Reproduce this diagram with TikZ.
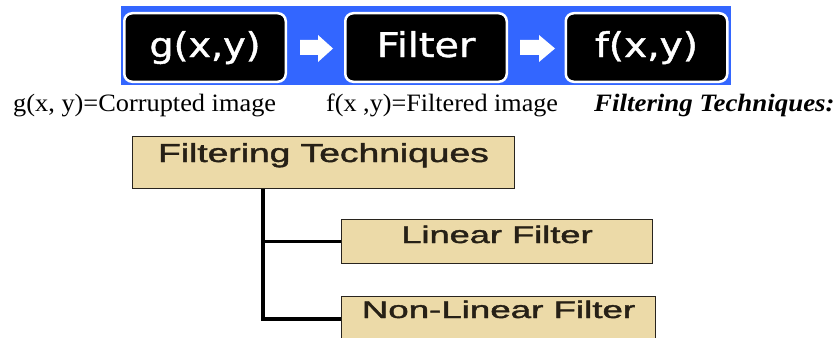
\documentclass[tikz,border=0pt]{standalone}
\usepackage{graphicx}
\usepackage{fontspec}
\setmainfont{Liberation Serif}
\newfontfamily\dvfont[FakeBold=1.2]{DejaVu Sans}
\newfontfamily\lsfont[FakeBold=1.4]{Liberation Sans}
\usetikzlibrary{calc}
\definecolor{bannerblue}{RGB}{51,102,255}
\definecolor{parch}{RGB}{236,218,168}
\definecolor{parchedge}{RGB}{40,36,30}
\definecolor{inktext}{RGB}{38,32,22}
\begin{document}
\begin{tikzpicture}[x=1pt,y=-1pt,
  topbox/.style={draw=white, line width=2.5pt, fill=black, rounded corners=8pt,
    minimum width=161.5pt, minimum height=68.5pt, inner sep=0pt, text=white,
    font=\dvfont\fontsize{34}{36}\selectfont, text height=24pt, text depth=5pt},
  techbox/.style={draw=parchedge, line width=1.6pt, fill=parch, inner sep=0pt,
    text=inktext, font=\lsfont\fontsize{24}{27}\selectfont, text height=6pt, text depth=7pt},
  caption/.style={anchor=base west, inner sep=0pt, font=\fontsize{25}{28}\selectfont},
  blockarrow/.style={fill=white},
  tree/.style={draw=black, line width=4pt}]
\useasboundingbox (0,0) rectangle (837,337);
\clip (0,0) rectangle (837,337);
\fill[white] (0,0) rectangle (837,337);
% banner
\fill[bannerblue] (121,6) rectangle (731,85);
\node[topbox] (g) at (205,47.5) {\scalebox{1.12}[1]{g(x,y)}};
\node[topbox] (filt) at (426,47.5) {\scalebox{1.17}[1]{Filter}};
\node[topbox] (f) at (646.5,47.5) {\scalebox{1.15}[1]{f(x,y)}};
\fill[blockarrow] (300,40) -- (318,40) -- (318,35) -- (333,48.5) -- (318,62) -- (318,55) -- (300,55) -- cycle;
\fill[blockarrow] (520,40) -- (539,40) -- (539,35) -- (555,48.5) -- (539,62) -- (539,55) -- (520,55) -- cycle;
% captions
\node[caption] (c1) at (13,111) {\scalebox{1.054}[1]{g(x, y)=Corrupted image}};
\node[caption] (c2) at (326,111) {\scalebox{1.046}[1]{f(x ,y)=Filtered image}};
\node[caption] (c3) at (594,111) {\scalebox{1.076}[1]{\textbf{\textit{Filtering Techniques:}}}};
% tree
\node[techbox, minimum width=382pt, minimum height=52pt, font=\lsfont\fontsize{26}{29}\selectfont,
  text height=7pt, text depth=8pt]
  (ft) at (323.5,162.5) {\scalebox{1.43}[1]{Filtering Techniques}};
\node[techbox, minimum width=311pt, minimum height=44pt, text height=9pt, text depth=6pt]
  (lf) at (497,241.5) {\scalebox{1.51}[1]{Linear Filter}};
\node[techbox, minimum width=314pt, minimum height=44pt]
  (nlf) at (498.5,318.5) {\scalebox{1.53}[1]{Non-Linear Filter}};
\coordinate (jx) at (263,0);
\draw[tree] (jx |- ft.south) |- (nlf.west);
\draw[tree, line width=3pt] (jx |- lf.west) -- (lf.west);
\end{tikzpicture}
\end{document}
